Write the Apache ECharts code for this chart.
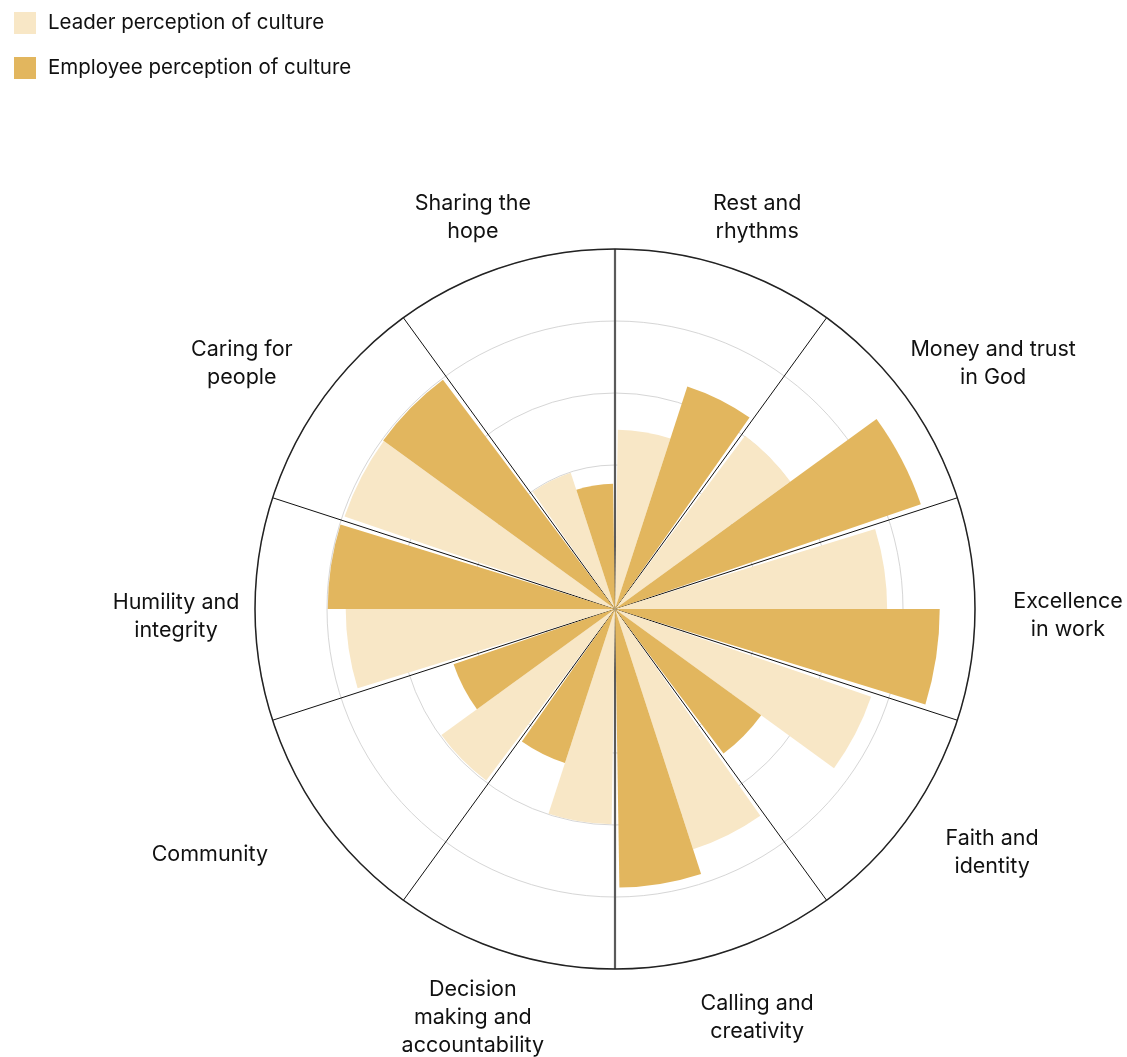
<!DOCTYPE html>
<html><head><meta charset="utf-8">
<script src="https://cdn.jsdelivr.net/npm/echarts@6/dist/echarts.min.js"></script>
<style>html,body{margin:0;padding:0;background:#fff}#c{width:1127px;height:1057px}</style>
</head><body><div id="c"></div>
<script>
// ---- data ----
const categories = ['Rest and\nrhythms', 'Money and trust\nin God', 'Excellence\nin work', 'Faith and\nidentity',
  'Calling and\ncreativity', 'Decision\nmaking and\naccountability', 'Community', 'Humility and\nintegrity',
  'Caring for\npeople', 'Sharing the\nhope'];
const seriesNames = ['Leader perception of culture', 'Employee perception of culture'];
const leader   = [2.49, 3.01, 3.78, 3.76, 3.51, 2.99, 2.98, 3.74, 3.97, 1.99];
const employee = [3.25, 4.49, 4.51, 2.51, 3.87, 2.25, 2.37, 3.99, 3.98, 1.74];
const radiusMin = 0, radiusMax = 5, radiusStep = 1;

// ---- layout / style (not data) ----
const LIGHT = '#F8E7C6', DARK = '#E2B65E';
const FONT = 'Inter, "Noto Sans", sans-serif';
const labelScale = [460 / 360, 418 / 360];
const labelNudge = [[0, 6], [6, 0], [-7, 7], [5, -2], [0, 11], [0, 11], [-33, 0], [21, 8], [-1, 0], [0, 6]];

const chart = echarts.init(document.getElementById('c'), null, {renderer: 'canvas'});
chart.setOption({
  animation: false,
  backgroundColor: '#fff',
  legend: {
    orient: 'vertical', left: 14, top: 12, padding: 0,
    itemWidth: 22, itemHeight: 22, itemGap: 23, icon: 'rect',
    data: seriesNames,
    textStyle: {fontSize: 20.5, fontFamily: FONT, color: '#111', padding: [3, 0, 0, 7]},
    selectedMode: false
  },
  polar: [
    {center: [615, 609], radius: 360},
    {center: [615, 609], radius: 360}
  ],
  angleAxis: [
    {
      polarIndex: 0, type: 'category', data: categories, startAngle: 90, clockwise: true,
      boundaryGap: true,
      axisLine: {show: true, lineStyle: {color: '#222', width: 1.5}},
      axisTick: {show: false}, axisLabel: {show: false},
      splitLine: {show: true, lineStyle: {color: ['#5a5a5a', '#111', '#111', '#111', '#111'], width: 1}}
    },
    {
      polarIndex: 1, type: 'category', data: ['a', 'b'], startAngle: 90, clockwise: true,
      boundaryGap: true,
      axisLine: {show: false}, axisTick: {show: false}, axisLabel: {show: false},
      splitLine: {show: true, lineStyle: {color: '#5a5a5a', width: 2.2}}
    }
  ],
  radiusAxis: [
    {
      polarIndex: 0, type: 'value', min: radiusMin, max: radiusMax, interval: radiusStep,
      axisLine: {show: false}, axisTick: {show: false}, axisLabel: {show: false},
      splitLine: {show: true, lineStyle: {color: '#d6d6d6', width: 1}}
    },
    {
      polarIndex: 1, type: 'value', min: radiusMin, max: radiusMax,
      axisLine: {show: false}, axisTick: {show: false}, axisLabel: {show: false},
      splitLine: {show: false}
    }
  ],
  series: [
    {
      name: seriesNames[0], type: 'bar', coordinateSystem: 'polar', polarIndex: 0,
      data: leader, barGap: '0%', barCategoryGap: '5%',
      itemStyle: {color: LIGHT}, silent: true, z: 3
    },
    {
      name: seriesNames[1], type: 'bar', coordinateSystem: 'polar', polarIndex: 0,
      data: employee, barGap: '0%', barCategoryGap: '5%',
      itemStyle: {color: DARK}, silent: true, z: 3
    },
    {
      name: 'labels', type: 'custom', coordinateSystem: 'polar', polarIndex: 0, silent: true,
      data: categories.map((_, i) => [radiusMin, i]),
      renderItem: function (params, api) {
        const i = api.value(1);
        const c = api.coord([radiusMin, i]);
        const p = api.coord([radiusMax, i]);
        const x = c[0] + (p[0] - c[0]) * labelScale[0] + labelNudge[i][0];
        const y = c[1] + (p[1] - c[1]) * labelScale[1] + labelNudge[i][1];
        return {
          type: 'text',
          style: {
            text: categories[i], x: x, y: y, align: 'center', verticalAlign: 'middle',
            fill: '#111', fontSize: 21.5, fontFamily: FONT, lineHeight: 28
          }
        };
      },
      z: 5
    }
  ]
});
</script></body></html>
